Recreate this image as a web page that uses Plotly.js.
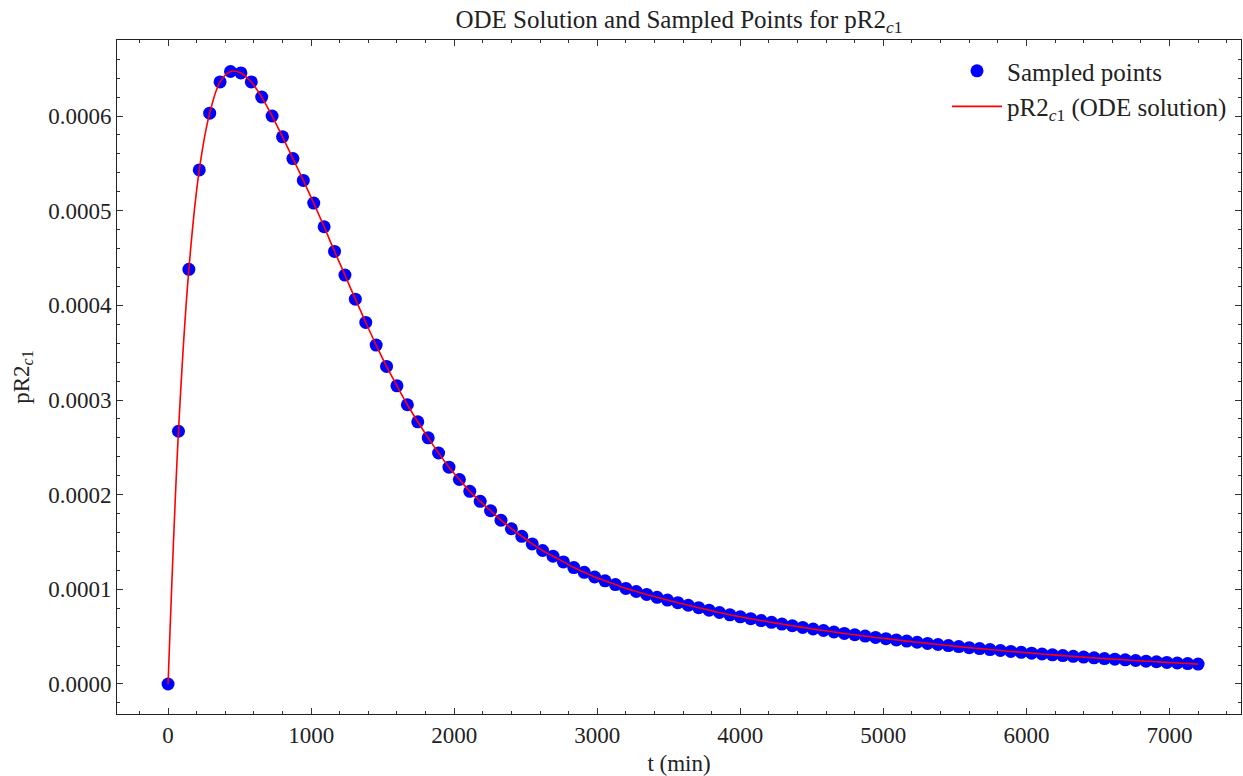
<!DOCTYPE html>
<html>
<head>
<meta charset="utf-8">
<script src="https://cdn.plot.ly/plotly-3.0.1.min.js"></script>
<style>html,body{margin:0;padding:0;background:#fff;}#chart{width:1243px;height:776px;}</style>
</head>
<body>
<div id="chart"></div>
<script>
// Sample times (min): 100 samples from 0 to 7200
var tSamples = [
  0, 72.73, 145.45, 218.18, 290.91, 363.64, 436.36, 509.09, 581.82, 654.55,
  727.27, 800.00, 872.73, 945.45, 1018.18, 1090.91, 1163.64, 1236.36, 1309.09, 1381.82,
  1454.55, 1527.27, 1600.00, 1672.73, 1745.45, 1818.18, 1890.91, 1963.64, 2036.36, 2109.09,
  2181.82, 2254.55, 2327.27, 2400.00, 2472.73, 2545.45, 2618.18, 2690.91, 2763.64, 2836.36,
  2909.09, 2981.82, 3054.55, 3127.27, 3200.00, 3272.73, 3345.45, 3418.18, 3490.91, 3563.64,
  3636.36, 3709.09, 3781.82, 3854.55, 3927.27, 4000.00, 4072.73, 4145.45, 4218.18, 4290.91,
  4363.64, 4436.36, 4509.09, 4581.82, 4654.55, 4727.27, 4800.00, 4872.73, 4945.45, 5018.18,
  5090.91, 5163.64, 5236.36, 5309.09, 5381.82, 5454.55, 5527.27, 5600.00, 5672.73, 5745.45,
  5818.18, 5890.91, 5963.64, 6036.36, 6109.09, 6181.82, 6254.55, 6327.27, 6400.00, 6472.73,
  6545.45, 6618.18, 6690.91, 6763.64, 6836.36, 6909.09, 6981.82, 7054.55, 7127.27, 7200.00
];
// pR2_c1 values (units of 1e-4)
var pR2c1 = [
  0.000, 2.670, 4.380, 5.430, 6.030, 6.360, 6.470, 6.455, 6.360, 6.200,
  6.000, 5.780, 5.550, 5.320, 5.080, 4.830, 4.570, 4.320, 4.065, 3.820,
  3.580, 3.355, 3.150, 2.950, 2.770, 2.600, 2.440, 2.290, 2.160, 2.035,
  1.930, 1.830, 1.730, 1.640, 1.560, 1.480, 1.410, 1.350, 1.290, 1.230,
  1.180, 1.130, 1.090, 1.050, 1.010, 0.977, 0.946, 0.916, 0.887, 0.859,
  0.832, 0.806, 0.780, 0.755, 0.731, 0.710, 0.690, 0.670, 0.651, 0.633,
  0.615, 0.598, 0.581, 0.565, 0.549, 0.534, 0.520, 0.506, 0.492, 0.479,
  0.466, 0.453, 0.441, 0.429, 0.417, 0.406, 0.395, 0.384, 0.374, 0.364,
  0.354, 0.344, 0.335, 0.326, 0.317, 0.308, 0.300, 0.292, 0.284, 0.276,
  0.269, 0.262, 0.255, 0.248, 0.241, 0.235, 0.228, 0.222, 0.216, 0.210
];
var SCALE = 1e-4;
var yVals = pR2c1.map(function(v){ return v * SCALE; });

var titleText = 'ODE Solution and Sampled Points for pR2<sub><i>c</i>1</sub>';
var xTitle = 't (min)';
var yTitle = 'pR2<sub><i>c</i>1</sub>';
var legendPoints = 'Sampled points';
var legendLine = 'pR2<sub><i>c</i>1</sub> (ODE solution)';

var FONT = 'Liberation Serif, Times New Roman, serif';
var FS = 23;

var traces = [
  {
    x: tSamples, y: yVals, type: 'scatter', mode: 'markers',
    name: legendPoints,
    marker: {color: '#0000ff', size: 13, line: {width: 0}}
  },
  {
    x: tSamples, y: yVals, type: 'scatter', mode: 'lines',
    name: legendLine,
    line: {color: '#ff0000', width: 1.6, shape: 'spline', smoothing: 1}
  }
];

var axisCommon = {
  showgrid: false, zeroline: false,
  showline: true, linecolor: '#222', linewidth: 1,
  mirror: 'allticks', ticks: 'inside', ticklen: 6, tickwidth: 1, tickcolor: '#333',
  tickfont: {family: FONT, size: FS, color: '#222'}
};

var layout = {
  width: 1243, height: 776,
  paper_bgcolor: '#fff', plot_bgcolor: '#fff',
  margin: {l: 117, r: 2, t: 40, b: 62},
  font: {family: FONT, size: FS, color: '#222'},
  showlegend: true,
  title: {text: titleText, x: 0.5, xref: 'paper', xanchor: 'center', y: 0.975, yref: 'container', yanchor: 'middle',
          font: {family: FONT, size: 25, color: '#222'}},
  xaxis: Object.assign({}, axisCommon, {
    range: [-357, 7500], tickmode: 'linear', tick0: 0, dtick: 1000,
    minor: {dtick: 200, tick0: 0, ticks: 'inside', ticklen: 3, tickcolor: '#333', showgrid: false},
    title: {text: xTitle, font: {family: FONT, size: FS, color: '#222'}, standoff: 10}
  }),
  yaxis: Object.assign({}, axisCommon, {
    range: [-0.0000317, 0.0006803], tickmode: 'linear', tick0: 0, dtick: 0.0001, tickformat: '.4f',
    minor: {dtick: 0.00002, tick0: 0, ticks: 'inside', ticklen: 3, tickcolor: '#333', showgrid: false},
    title: {text: yTitle, font: {family: FONT, size: FS, color: '#222'}, standoff: 12}
  }),
  legend: {
    x: 0.992, xanchor: 'right', y: 0.988, yanchor: 'top',
    bgcolor: 'rgba(0,0,0,0)', borderwidth: 0,
    font: {family: FONT, size: 25, color: '#222'},
    tracegroupgap: 0, itemwidth: 50
  }
};

Plotly.newPlot('chart', traces, layout, {displayModeBar: false, staticPlot: true});
</script>
</body>
</html>
